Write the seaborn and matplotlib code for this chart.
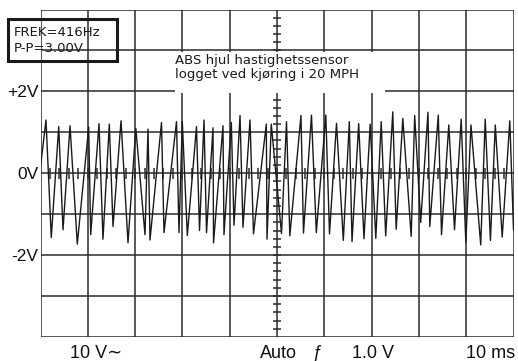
import numpy as np
import pandas as pd
import matplotlib
matplotlib.use("Agg")
import matplotlib.pyplot as plt
import matplotlib.patches as mpatches
import seaborn as sns

# ---- data (time in ms, voltage in V) ----
time_ms = [0.0, 1.16, 2.28, 3.85, 4.76, 6.24, 7.78, 10.19, 10.61, 12.37, 13.21,
           14.55, 15.33, 17.02, 18.50, 20.15, 22.09, 22.73, 23.15, 25.58, 26.11,
           28.75, 29.28, 29.98, 31.04, 32.98, 33.62, 34.57, 35.10, 36.47, 36.58,
           38.58, 38.79, 40.34, 40.91, 42.18, 42.81, 44.29, 45.03, 47.74, 47.89,
           48.79, 50.95, 52.01, 52.71, 55.07, 55.60, 57.29, 58.31, 60.32, 61.10,
           62.58, 64.02, 65.29, 65.86, 67.27, 68.39, 69.70, 70.89, 72.03, 72.98,
           74.48, 75.20, 76.60, 78.37, 79.11, 80.38, 81.92, 82.30, 84.10, 84.78,
           86.32, 87.53, 88.94, 89.92, 91.01, 93.07, 94.02, 95.12, 96.15, 97.61,
           99.22, 100.0]
volts = [0.16, 1.30, -1.57, 1.14, -1.38, 1.16, -1.73, 1.13, -1.50, 1.21, -1.61,
         1.20, -1.30, 1.28, -1.70, 1.10, -1.50, 1.08, -1.63, 1.24, -1.45,
         1.26, -1.45, 1.26, -1.52, 1.14, -1.40, 1.30, -1.45, 1.11, -1.70,
         1.16, -1.50, 1.24, -1.27, 1.41, -1.32, 1.30, -1.48, 1.20, -1.61,
         1.20, -1.47, 1.26, -1.53, 1.41, -1.46, 1.42, -1.45, 1.42, -1.48,
         1.22, -1.64, 1.26, -1.67, 1.21, -1.60, 1.20, -1.59, 1.26, -1.53,
         1.50, -1.37, 1.34, -1.54, 1.41, -1.20, 1.49, -1.30, 1.42, -1.50,
         1.18, -1.38, 1.32, -1.69, 1.18, -1.75, 1.32, -1.64, 1.18, -1.56,
         1.28, -1.38]

y_tick_values = [2, 0, -2]
y_tick_labels = ["+2V", "0V", "-2V"]
info_lines = ["FREK=416Hz", "P-P=3.00V"]
title_lines = ["ABS hjul hastighetssensor", "logget ved kjøring i 20 MPH"]
footer_texts = ["10 V\u223c", "Auto", "\u0192", "1.0 V", "10 ms"]

df = pd.DataFrame({"t": time_ms, "v": volts})

sns.set_style("white")
plt.rcParams["font.family"] = ["Liberation Sans", "DejaVu Sans"]

W, H = 518, 361
fig = plt.figure(figsize=(W / 100, H / 100), dpi=100)
ax = fig.add_axes([40.5 / W, 1 - 337 / H, (513.5 - 40.5) / W, (337 - 9.5) / H])

gcol = "#2b2b2b"
glw = 1.1
ax.set_xlim(0, 100)
ax.set_ylim(-4, 4)
for xv in np.arange(0, 101, 10):
    ax.axvline(xv, color=gcol, lw=glw, zorder=1)
for yv in np.arange(-4, 5, 1):
    ax.axhline(yv, color=gcol, lw=glw, zorder=1)
# centre graticule ticks
ax.vlines(np.arange(2, 100, 2), -0.13, 0.13, color=gcol, lw=glw, zorder=1)
ax.hlines(np.arange(-3.8, 4.0, 0.2), 50 - 0.9, 50 + 0.9, color=gcol, lw=glw, zorder=1)

for s in ax.spines.values():
    s.set_visible(False)

# white background behind the centre annotation
ax.add_patch(mpatches.Rectangle((28.4, 1.97), 44.4, 0.98, facecolor="white",
                                edgecolor="none", zorder=2))
ax.text(28.5, 2.92, "\n".join(title_lines), fontsize=9.5, family=["DejaVu Sans"],
        va="top", ha="left", linespacing=1.08, color="#1a1a1a", zorder=3)

sns.lineplot(data=df, x="t", y="v", ax=ax, color="#1a1a1a", lw=1.0, zorder=4,
             estimator=None, sort=False)

ax.set_xlabel("")
ax.set_ylabel("")
ax.set_xticks([])
ax.set_yticks(y_tick_values)
ax.set_yticklabels(y_tick_labels, fontsize=12.5, color="#111111")
ax.tick_params(axis="y", length=0, pad=1.5)

# top-left info box
fig.patches.append(mpatches.Rectangle((8 / W, 1 - 61 / H), 109 / W, 42 / H,
                                      transform=fig.transFigure, fill=False,
                                      edgecolor="#1a1a1a", lw=2.2, zorder=5))
fig.text(14 / W, 1 - 35.5 / H, info_lines[0], fontsize=9.5, family=["DejaVu Sans"],
         va="baseline", ha="left", color="#1a1a1a")
fig.text(14 / W, 1 - 51.5 / H, info_lines[1], fontsize=9.5, family=["DejaVu Sans"],
         va="baseline", ha="left", color="#1a1a1a")

# footer texts
footer_x = [70, 260, 312, 352, 466]
for txt, xp in zip(footer_texts, footer_x):
    fig.text(xp / W, 1 - 357.5 / H, txt, fontsize=13, va="baseline", ha="left",
             color="#111111", family=["Liberation Sans", "DejaVu Sans"],
             style="italic" if txt == "\u0192" else "normal")

fig.savefig("out.png", dpi=100)
